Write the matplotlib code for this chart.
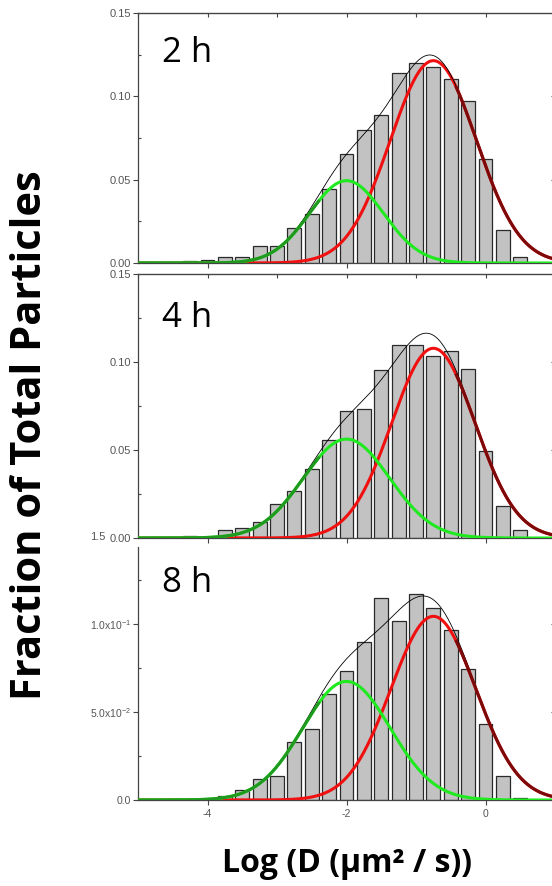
import numpy as np
import matplotlib
matplotlib.use("Agg")
import matplotlib.pyplot as plt
from matplotlib.ticker import MultipleLocator, FixedLocator, FixedFormatter

plt.rcParams["font.family"] = ["Liberation Sans", "DejaVu Sans"]
plt.rcParams["mathtext.fontset"] = "custom"
plt.rcParams["mathtext.rm"] = "Liberation Sans"

# bin centres of log(D) histogram
log_d = [-4.25, -4.0, -3.75, -3.5, -3.25, -3.0, -2.75, -2.5, -2.25, -2.0,
         -1.75, -1.5, -1.25, -1.0, -0.75, -0.5, -0.25, 0.0, 0.25, 0.5]

frac_2h = [0.0013, 0.0018, 0.0035, 0.0035, 0.0103, 0.0103, 0.0212, 0.0296, 0.0444, 0.0652,
           0.0800, 0.0888, 0.1138, 0.1198, 0.1174, 0.1102, 0.0972, 0.0622, 0.0196, 0.0034]
frac_4h = [0.0012, 0.0005, 0.0045, 0.0056, 0.0093, 0.0196, 0.0269, 0.0392, 0.0559, 0.0720,
           0.0733, 0.0953, 0.1097, 0.1097, 0.1032, 0.1060, 0.0958, 0.0492, 0.0182, 0.0045]
frac_8h = [0.0000, 0.0005, 0.0020, 0.0057, 0.0122, 0.0134, 0.0331, 0.0402, 0.0602, 0.0732,
           0.0900, 0.1146, 0.1019, 0.1169, 0.1092, 0.0969, 0.0747, 0.0431, 0.0134, 0.0010]

# gaussian fits: (centre, amplitude, sigma)
slow_2h = (-2.0, 0.0494, 0.53)
fast_2h = (-0.75, 0.1214, 0.62)
slow_4h = (-2.0, 0.0562, 0.62)
fast_4h = (-0.75, 0.1078, 0.60)
slow_8h = (-2.0, 0.0674, 0.63)
fast_8h = (-0.75, 0.1044, 0.61)

labels = ["2 h", "4 h", "8 h"]

W, H = 552, 886
fig = plt.figure(figsize=(W / 100, H / 100), dpi=100)

# axes boxes in pixels: (top, bottom, ymax)
cajas = [(13, 263, 0.15), (274, 538, 0.15), (547, 800, 0.1438)]
izq, der = 138, 555

GRIS_TXT = "#555555"
xs = np.linspace(-5, 1, 800)


def gauss(x, p):
    c, a, s = p
    return a * np.exp(-(x - c) ** 2 / (2 * s ** 2))


paneles = [(frac_2h, slow_2h, fast_2h), (frac_4h, slow_4h, fast_4h), (frac_8h, slow_8h, fast_8h)]
label_y = [0.804, 0.799, 0.822]

for i, ((fr, lento, rapido), (top, bot, ymax)) in enumerate(zip(paneles, cajas)):
    ax = fig.add_axes([izq / W, (H - bot) / H, (der - izq) / W, (bot - top) / H])
    ax.bar(log_d, fr, width=0.2, color="#c2c2c2", edgecolor="#2a2a2a", linewidth=0.9, zorder=2)

    g = gauss(xs, lento)
    r = gauss(xs, rapido)
    ax.plot(xs, r, color="#f01010", lw=2.2, zorder=3)
    ax.plot(xs, g, color="#1fea1f", lw=2.2, zorder=4)
    ax.plot(xs, g + r, color="black", lw=0.6, zorder=5)
    m_r = xs > rapido[0] + 0.33
    ax.plot(xs[m_r], r[m_r], color="#7c0a0a", lw=2.2, zorder=6)
    m_g = xs < lento[0] - 0.4
    ax.plot(xs[m_g], g[m_g], color="#1f9a1f", lw=2.2, zorder=6)

    ax.set_xlim(-5, 1)
    ax.set_ylim(0, ymax)

    ax.xaxis.set_major_locator(MultipleLocator(2))
    ax.xaxis.set_minor_locator(MultipleLocator(1))
    ax.yaxis.set_major_locator(FixedLocator([0, 0.05, 0.10, 0.15]))
    ax.yaxis.set_minor_locator(FixedLocator([0.025, 0.075, 0.125]))
    ax.tick_params(which="major", direction="out", length=3.5, width=0.8,
                   colors="#444444", labelcolor=GRIS_TXT, labelsize=8, pad=1.5)
    ax.tick_params(which="minor", direction="in", length=2.5, width=0.8, colors="#444444")
    for lado in ["left", "bottom", "top", "right"]:
        ax.spines[lado].set_color("#444444")
        ax.spines[lado].set_linewidth(0.9)

    if i < 2:
        ax.yaxis.set_major_formatter(FixedFormatter(["0.00", "0.05", "0.10", "0.15"]))
        ax.tick_params(axis="x", labelbottom=False)
        sec = ax.secondary_xaxis("top")
        sec.xaxis.set_major_locator(MultipleLocator(2))
        sec.xaxis.set_minor_locator(MultipleLocator(1))
        sec.tick_params(which="both", direction="in", length=3, width=0.8,
                        colors="#444444", labeltop=False)
    else:
        ax.yaxis.set_major_formatter(FixedFormatter(
            ["0.0", r"5.0x10$^{-2}$", r"1.0x10$^{-1}$", ""]))
        ax.tick_params(axis="y", labelsize=7.5)
        ax.spines["top"].set_visible(False)
        ax.xaxis.set_major_formatter(FixedFormatter(["-4", "-2", "0"]))
        ax.xaxis.set_major_locator(FixedLocator([-4, -2, 0]))
        ax.tick_params(axis="x", labelsize=7.5, pad=3)

    sec_y = ax.secondary_yaxis("right")
    sec_y.yaxis.set_major_locator(FixedLocator([0.05, 0.10]))
    sec_y.tick_params(direction="in", length=3, width=0.8, colors="#444444", labelright=False)

    ax.text(0.058, label_y[i], labels[i], transform=ax.transAxes,
            fontsize=25, family="Open Sans", va="baseline", ha="left", color="black")

fig.text(90 / W, (H - 537) / H, "1.5", fontsize=8, color=GRIS_TXT, va="center")

fig.text(31 / W, (H - 435) / H, "Fraction of Total Particles", rotation=90,
         fontsize=30, fontweight="bold", family="Open Sans", ha="center", va="center")
fig.text(347 / W, (H - 872) / H, "Log (D (\u00b5m\u00b2 / s))",
         fontsize=23, fontweight="bold", family="Open Sans", ha="center", va="baseline")

fig.savefig("out.png", dpi=100)
